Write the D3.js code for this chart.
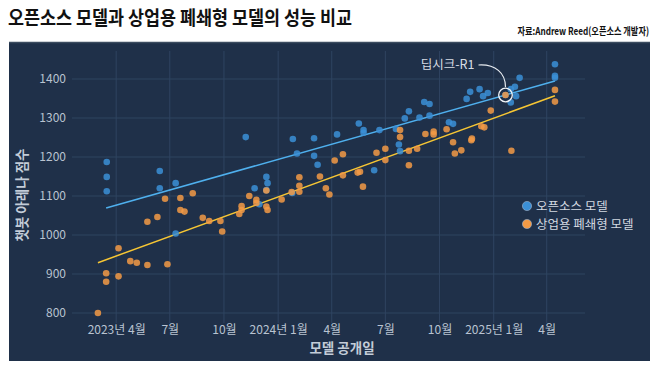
<!DOCTYPE html>
<html><head><meta charset="utf-8">
<script src="https://cdn.jsdelivr.net/npm/d3@7"></script>
<style>
html,body{margin:0;padding:0;background:#fff;}
svg{display:block;font-family:"Noto Sans CJK KR","Noto Sans",sans-serif;}
</style></head>
<body><svg id="c" width="658" height="369"></svg>
<script>
const titleText = "오픈소스 모델과 상업용 폐쇄형 모델의 성능 비교";
const sourceText = "자료:Andrew Reed(오픈소스 개발자)";
const xAxisTitle = "모델 공개일";
const yAxisTitle = "챗봇 아레나 점수";
const seriesNames = ["오픈소스 모델", "상업용 폐쇄형 모델"];

const yTicks = [800, 900, 1000, 1100, 1200, 1300, 1400];
const xTickDates = ["2023-04-01","2023-07-01","2023-10-01","2024-01-01","2024-04-01","2024-07-01","2024-10-01","2025-01-01","2025-04-01"];
const xTickLabels = ["2023년 4월","7월","10월","2024년 1월","4월","7월","10월","2025년 1월","4월"];

// open-source models [release date, arena score]
const openModels = [
["2023-03-16",1187],["2023-03-16",1149],["2023-03-16",1112],
["2023-06-14",1164],["2023-06-14",1120],["2023-07-11",1133],["2023-07-11",1004],
["2023-11-07",1251],["2023-11-22",1120],["2023-12-12",1149],["2023-12-14",1133],
["2023-12-12",1115],["2023-11-30",1079],["2024-01-26",1246],["2024-03-02",1248],
["2024-02-02",1209],["2024-03-02",1203],["2024-03-08",1180],["2024-01-25",1108],
["2024-04-10",1258],["2024-05-17",1286],["2024-05-25",1269],["2024-05-25",1262],
["2024-06-21",1269],["2024-07-19",1272],["2024-08-03",1299],["2024-08-10",1317],
["2024-08-28",1301],["2024-09-05",1341],["2024-09-14",1336],["2024-09-14",1306],
["2024-07-24",1232],["2024-07-26",1215],["2024-06-12",1166],["2024-10-17",1289],
["2024-10-24",1285],["2024-11-16",1349],["2024-11-22",1367],["2024-12-08",1374],
["2024-12-14",1356],["2024-12-22",1364],["2025-01-30",1340],["2025-01-30",1374],
["2025-02-06",1380],["2025-02-08",1356],["2025-02-14",1403],["2025-04-15",1438],
["2025-04-15",1408],["2025-04-15",1403],["2025-01-21",1359]
];
// commercial closed models [release date, arena score]
const closedModels = [
["2023-03-01",800],["2023-03-15",902],["2023-03-15",880],["2023-04-05",966],
["2023-04-05",894],["2023-04-25",933],["2023-05-06",929],["2023-05-24",923],
["2023-05-24",1034],["2023-06-10",1046],["2023-06-23",1093],["2023-06-27",925],
["2023-07-19",1095],["2023-07-19",1064],["2023-07-26",1060],["2023-08-09",1107],
["2023-08-26",1044],["2023-09-06",1036],["2023-09-25",1036],["2023-09-28",1009],
["2023-10-27",1054],["2023-10-31",1074],["2023-10-31",1064],["2023-11-13",1100],
["2023-11-25",1090],["2023-11-25",1082],["2023-12-12",1073],["2023-12-14",1064],
["2023-12-12",1114],["2024-01-07",1091],["2024-01-24",1110],["2024-02-06",1148],
["2024-02-06",1126],["2024-02-06",1111],["2024-03-12",1150],["2024-03-22",1120],
["2024-03-28",1104],["2024-04-06",1191],["2024-04-20",1207],["2024-04-20",1153],
["2024-05-15",1160],["2024-05-19",1162],["2024-05-24",1124],["2024-06-16",1211],
["2024-07-01",1221],["2024-07-01",1192],["2024-07-26",1269],["2024-07-26",1251],
["2024-08-10",1216],["2024-08-10",1179],["2024-08-24",1221],["2024-09-07",1259],
["2024-09-21",1265],["2024-09-21",1258],["2024-10-13",1271],["2024-10-24",1238],
["2024-10-27",1209],["2024-11-07",1217],["2024-11-25",1247],["2024-11-24",1243],
["2024-12-11",1279],["2024-12-16",1276],["2024-12-27",1319],["2025-01-21",1359],
["2025-01-31",1216],["2025-04-15",1372],["2025-04-15",1342]
];
const openTrend = [["2023-03-15",1069],["2025-04-15",1395]];
const closedTrend = [["2023-03-01",929],["2025-04-15",1357]];
const highlight = {label:"딥시크-R1", date:"2025-01-21", score:1359};

const parse = d3.timeParse("%Y-%m-%d");
const svg = d3.select("#c");

// title & source
svg.append("text").attr("x",8).attr("y",25).attr("font-size",19.5).attr("font-weight",700)
  .attr("fill","#111").attr("textLength",344).attr("lengthAdjust","spacingAndGlyphs").text(titleText);
svg.append("text").attr("transform","translate(649,35) scale(0.78,1)").attr("text-anchor","end")
  .attr("font-size",10.5).attr("font-weight",700).attr("fill","#111").text(sourceText);

// panel
svg.append("rect").attr("x",9).attr("y",42).attr("width",641).attr("height",319).attr("fill","#1f3049");
svg.append("line").attr("x1",9).attr("x2",650).attr("y1",42.5).attr("y2",42.5).attr("stroke","#3c4c60").attr("stroke-width",1.5);

const x = d3.scaleTime().domain([parse("2023-01-16"), parse("2025-06-05")]).range([72,585]);
const y = d3.scaleLinear().domain([775,1470]).range([322.75,51.7]);

// grid
const g = svg.append("g");
g.selectAll("line.h").data(yTicks).join("line").attr("class","h")
  .attr("x1",72).attr("x2",585).attr("y1",d=>y(d)).attr("y2",d=>y(d))
  .attr("stroke","#2f4461").attr("stroke-width",1);
g.selectAll("line.v").data(xTickDates).join("line").attr("class","v")
  .attr("x1",d=>x(parse(d))).attr("x2",d=>x(parse(d))).attr("y1",51).attr("y2",323)
  .attr("stroke","#2f4461").attr("stroke-width",1);

// y axis
const yAxis = d3.axisLeft(y).tickValues(yTicks).tickSize(0).tickPadding(0).tickFormat(d3.format("d"));
const ya = svg.append("g").attr("transform","translate(66,0)").call(yAxis);
ya.select(".domain").remove();
ya.selectAll("text").attr("font-size",12).attr("fill","#b9c3d1").attr("font-family","'Noto Sans CJK KR','Noto Sans',sans-serif");

// x axis
const xAxis = d3.axisBottom(x).tickValues(xTickDates.map(parse)).tickSize(0).tickPadding(0)
  .tickFormat((d,i)=>xTickLabels[i]);
const xa = svg.append("g").attr("transform","translate(0,325)").call(xAxis);
xa.select(".domain").remove();
xa.selectAll("text").attr("font-size",12).attr("fill","#b9c3d1").attr("font-family","'Noto Sans CJK KR','Noto Sans',sans-serif");

// axis titles
svg.append("text").attr("x",342).attr("y",353).attr("text-anchor","middle").attr("font-size",13.5)
  .attr("font-weight",700).attr("fill","#c3ccd8").text(xAxisTitle);
svg.append("text").attr("transform","translate(27,195) rotate(-90)").attr("text-anchor","middle")
  .attr("font-size",13.5).attr("font-weight",700).attr("fill","#c3ccd8").text(yAxisTitle);

// trend lines
const line = d3.line().x(d=>x(parse(d[0]))).y(d=>y(d[1]));
svg.append("path").datum(openTrend).attr("d",line).attr("fill","none").attr("stroke","#4fb0ee").attr("stroke-width",1.5);
svg.append("path").datum(closedTrend).attr("d",line).attr("fill","none").attr("stroke","#f6c634").attr("stroke-width",1.5);

// dots
svg.append("g").selectAll("circle").data(openModels).join("circle")
  .attr("cx",d=>x(parse(d[0]))).attr("cy",d=>y(d[1])).attr("r",3.3)
  .attr("fill","#3b8fd6").attr("fill-opacity",0.85);
svg.append("g").selectAll("circle").data(closedModels).join("circle")
  .attr("cx",d=>x(parse(d[0]))).attr("cy",d=>y(d[1])).attr("r",3.3)
  .attr("fill","#f39a45").attr("fill-opacity",0.85);

// highlight annotation
const hx = x(parse(highlight.date)), hy = y(highlight.score);
svg.append("circle").attr("cx",hx).attr("cy",hy).attr("r",6.8).attr("fill","none")
  .attr("stroke","#f2f4f7").attr("stroke-width",1.3);
svg.append("path").attr("d",`M${hx-27},${hy-30} C${hx-10},${hy-31} ${hx},${hy-22} ${hx},${hy-8}`)
  .attr("fill","none").attr("stroke","#e8ecf1").attr("stroke-width",1.2);
svg.append("text").attr("x",hx-31).attr("y",hy-26).attr("text-anchor","end").attr("font-size",12.5)
  .attr("fill","#d7dde5").text(highlight.label);

// legend
const colors = ["#3b8fd6","#f39a45"];
const lg = svg.append("g").attr("transform","translate(527,206)");
seriesNames.forEach((n,i)=>{
  lg.append("circle").attr("cx",0).attr("cy",i*18).attr("r",4.6).attr("fill",colors[i])
    .attr("stroke","#9fb3cc").attr("stroke-width",0.6);
  lg.append("text").attr("x",9).attr("y",i*18+4.5).attr("font-size",12.5).attr("fill","#d3d9e1").text(n);
});
</script></body></html>
